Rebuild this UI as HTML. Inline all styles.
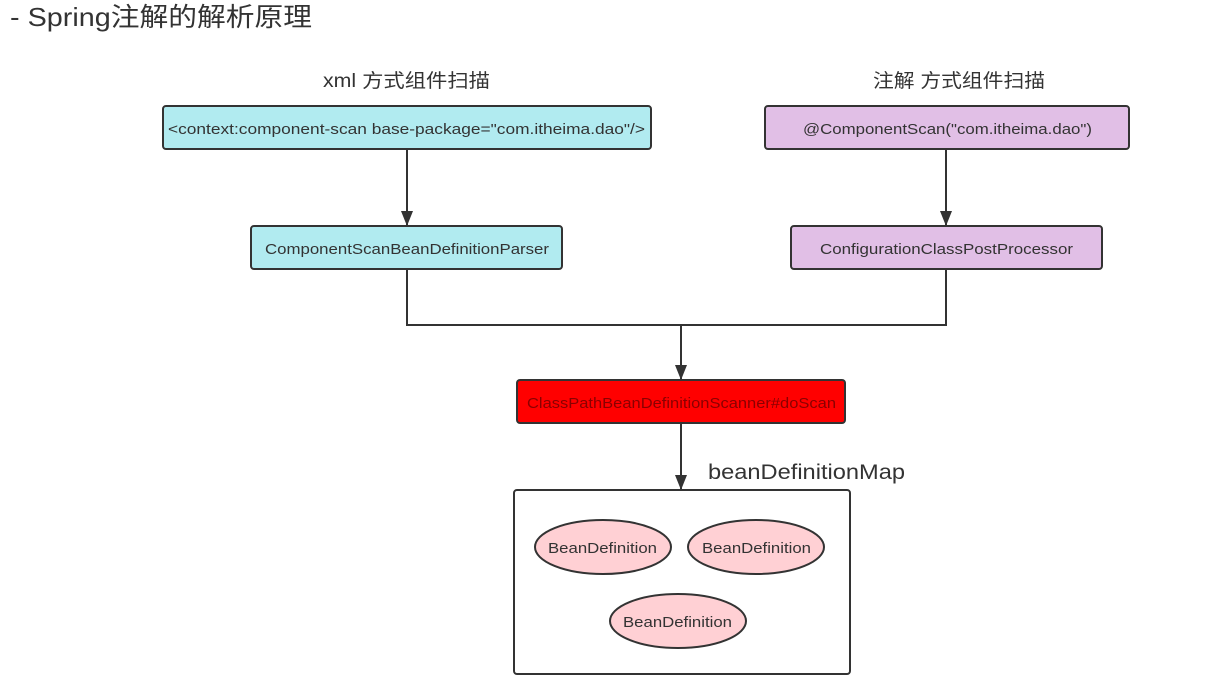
<!DOCTYPE html>
<html><head><meta charset="utf-8"><style>
body{margin:0;background:#fff;width:1212px;height:687px;overflow:hidden;font-family:"Liberation Sans","Noto Sans CJK SC",sans-serif}
</style></head><body>
<svg width="1212" height="687" xmlns="http://www.w3.org/2000/svg" style="position:absolute;left:0;top:0" font-family="Liberation Sans, Noto Sans CJK SC, sans-serif">
<text x="10" y="26" font-size="26" fill="#333" textLength="302" lengthAdjust="spacingAndGlyphs">- Spring注解的解析原理</text>
<text x="323" y="87" font-size="19" fill="#333" textLength="167" lengthAdjust="spacingAndGlyphs">xml 方式组件扫描</text>
<text x="873" y="87" font-size="19" fill="#333" textLength="172" lengthAdjust="spacingAndGlyphs">注解 方式组件扫描</text>
<g stroke="#333" stroke-width="2" fill="none">
<line x1="407" y1="149" x2="407" y2="225"/>
<line x1="946" y1="149" x2="946" y2="225"/>
<polyline points="407,269 407,325 946,325 946,269"/>
<line x1="681" y1="325" x2="681" y2="379"/>
<line x1="681" y1="423" x2="681" y2="489"/>
</g>
<g fill="#333">
<path d="M401,211 L413,211 L407,226Z"/><path d="M940,211 L952,211 L946,226Z"/>
<path d="M675,365 L687,365 L681,380Z"/><path d="M675,475 L687,475 L681,490Z"/>
</g>
<g stroke="#333" stroke-width="2">
<rect x="163" y="106" width="488" height="43" rx="3" fill="#b1ebf0"/>
<rect x="251" y="226" width="311" height="43" rx="3" fill="#b1ebf0"/>
<rect x="765" y="106" width="364" height="43" rx="3" fill="#e1bfe6"/>
<rect x="791" y="226" width="311" height="43" rx="3" fill="#e1bfe6"/>
<rect x="517" y="380" width="328" height="43" rx="3" fill="#ff0000"/>
<rect x="514" y="490" width="336" height="184" rx="3" fill="#fff"/>
<ellipse cx="603" cy="547" rx="68" ry="27" fill="#ffd0d4"/>
<ellipse cx="756" cy="547" rx="68" ry="27" fill="#ffd0d4"/>
<ellipse cx="678" cy="621" rx="68" ry="27" fill="#ffd0d4"/>
</g>
<g font-size="15" fill="#333" lengthAdjust="spacingAndGlyphs">
<text x="168" y="134" textLength="477" lengthAdjust="spacingAndGlyphs">&lt;context:component-scan base-package="com.itheima.dao"/&gt;</text>
<text x="265" y="254" textLength="284" lengthAdjust="spacingAndGlyphs">ComponentScanBeanDefinitionParser</text>
<text x="803" y="134" textLength="289" lengthAdjust="spacingAndGlyphs">@ComponentScan("com.itheima.dao")</text>
<text x="820" y="254" textLength="253" lengthAdjust="spacingAndGlyphs">ConfigurationClassPostProcessor</text>
<text x="527" y="408" fill="#8a0000" textLength="309" lengthAdjust="spacingAndGlyphs">ClassPathBeanDefinitionScanner#doScan</text>
<text x="548" y="553" textLength="109" lengthAdjust="spacingAndGlyphs">BeanDefinition</text>
<text x="702" y="553" textLength="109" lengthAdjust="spacingAndGlyphs">BeanDefinition</text>
<text x="623" y="627" textLength="109" lengthAdjust="spacingAndGlyphs">BeanDefinition</text>
</g>
<text x="708" y="479" font-size="21" fill="#333" textLength="197" lengthAdjust="spacingAndGlyphs">beanDefinitionMap</text>
</svg>
</body></html>
